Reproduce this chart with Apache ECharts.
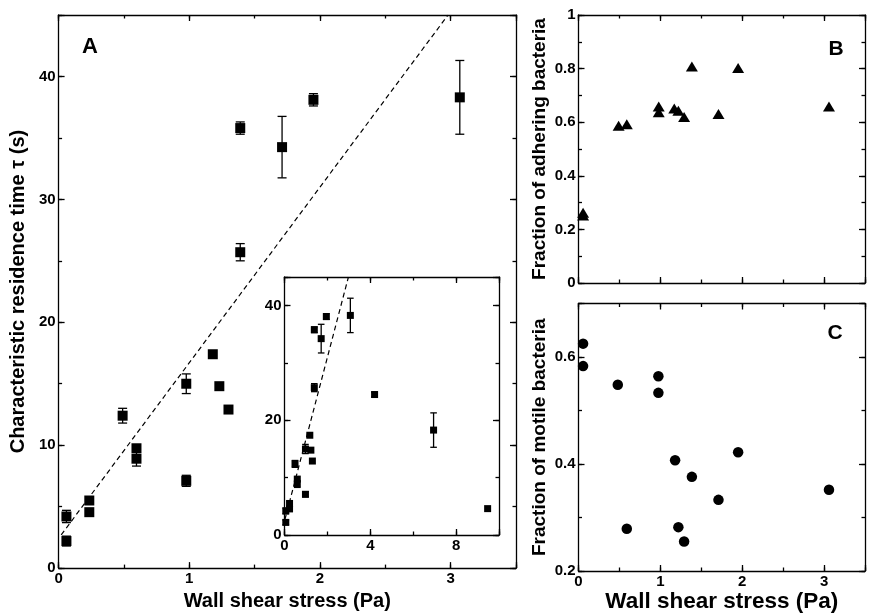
<!DOCTYPE html>
<html>
<head>
<meta charset="utf-8">
<script src="https://cdn.jsdelivr.net/npm/echarts@6/dist/echarts.min.js"></script>
<style>
  html, body { margin: 0; padding: 0; background: #fff; }
  #main { width: 869px; height: 616px; }
</style>
</head>
<body>
<div id="main"></div>
<script>
// residence time vs wall shear stress (panel A and inset)
var tauX = [0.06, 0.06, 0.235, 0.235, 0.49, 0.596, 0.596, 0.977, 0.977, 1.18, 1.23, 1.30, 1.39, 1.39, 1.71, 1.95, 3.07]
var tauY = [4.2, 2.2, 5.5, 4.55, 12.4, 9.75, 8.9, 15.0, 7.1, 17.4, 14.8, 12.9, 35.8, 25.7, 34.25, 38.1, 38.3]
var tauErr = [0.5, 0.4, 0, 0, 0.6, 0, 0.6, 0.8, 0.45, 0, 0, 0, 0.5, 0.7, 2.5, 0.5, 3.0]
// extra high-stress points only shown in the inset
var tauXHigh = [4.2, 6.95, 9.47]
var tauYHigh = [24.5, 18.3, 4.6]
var tauErrHigh = [0.4, 3.0, 0]
// dashed fit line, end points
var fitX = [0.02, 2.98]
var fitY = [2.7, 45.0]

// fraction of adhering bacteria (panel B)
var adhX = [0.056, 0.056, 0.49, 0.59, 0.98, 0.98, 1.17, 1.22, 1.29, 1.385, 1.71, 1.95, 3.06]
var adhY = [0.262, 0.252, 0.587, 0.592, 0.659, 0.637, 0.651, 0.643, 0.619, 0.808, 0.631, 0.802, 0.659]

// fraction of motile bacteria (panel C)
var motX = [0.056, 0.056, 0.48, 0.976, 0.976, 1.18, 1.385, 1.95, 1.71, 3.06, 0.59, 1.22, 1.29]
var motY = [0.625, 0.583, 0.548, 0.564, 0.533, 0.407, 0.376, 0.422, 0.333, 0.352, 0.279, 0.282, 0.255]

// tick labels
var tauXTicks = [0, 1, 2, 3]
var tauYTicks = [0, 10, 20, 30, 40]
var insetXTicks = [0, 4, 8]
var insetYTicks = [0, 20, 40]
var fracXTicks = [0, 1, 2, 3]
var adhYTicks = [0, 0.2, 0.4, 0.6, 0.8, 1]
var motYTicks = [0.2, 0.4, 0.6]

var FONT = '"Liberation Sans", Arial, Helvetica, sans-serif'

var xAxes = []
var yAxes = []

// pushes a major axis (line, long ticks, labels) and a minor axis (short ticks) on one side
function addAxes (list, grid, pos, min, max, major, minor, ticks, name, nameSize, nameGap) {
  var idx = list.length
  var vertical = (pos === 'left' || pos === 'right')
  list.push({
    type: 'value',
    gridIndex: grid,
    position: pos,
    min: min,
    max: max,
    interval: major,
    axisLine: { show: true, onZero: false, lineStyle: { color: '#000', width: 1.3 } },
    axisTick: { show: true, inside: true, length: 6, lineStyle: { color: '#000', width: 1.3 } },
    axisLabel: {
      show: !!ticks,
      margin: 3,
      color: '#000',
      fontSize: 15,
      fontWeight: 'bold',
      fontFamily: FONT,
      formatter: function (v) {
        if (!ticks) return ''
        for (var i = 0; i < ticks.length; i++) {
          if (Math.abs(ticks[i] - v) < 1e-6) return String(ticks[i])
        }
        return ''
      }
    },
    splitLine: { show: false },
    name: name || '',
    nameLocation: 'middle',
    nameGap: nameGap || 0,
    nameRotate: vertical ? 90 : 0,
    nameTextStyle: { color: '#000', fontSize: nameSize || 12, fontWeight: 'bold', fontFamily: FONT }
  })
  list.push({
    type: 'value',
    gridIndex: grid,
    position: pos,
    min: min,
    max: max,
    interval: minor,
    axisLine: { show: false, onZero: false },
    axisTick: { show: true, inside: true, length: 3.5, lineStyle: { color: '#000', width: 1.3 } },
    axisLabel: { show: false },
    splitLine: { show: false }
  })
  return idx
}

// grid 0: A, grid 1: inset, grid 2: B, grid 3: C
var axA = addAxes(xAxes, 0, 'bottom', 0, 3.5, 1, 0.5, tauXTicks, 'Wall shear stress (Pa)', 20, 21)
addAxes(xAxes, 0, 'top', 0, 3.5, 1, 0.5, null)
var ayA = addAxes(yAxes, 0, 'left', 0, 45, 10, 5, tauYTicks, 'Characteristic residence time τ (s)', 20, 23)
addAxes(yAxes, 0, 'right', 0, 45, 10, 5, null)

var axI = addAxes(xAxes, 1, 'bottom', 0, 10, 4, 2, insetXTicks)
addAxes(xAxes, 1, 'top', 0, 10, 4, 2, null)
var ayI = addAxes(yAxes, 1, 'left', 0, 45, 20, 10, insetYTicks)
addAxes(yAxes, 1, 'right', 0, 45, 20, 10, null)

var axB = addAxes(xAxes, 2, 'bottom', 0, 3.5, 1, 0.5, null)
addAxes(xAxes, 2, 'top', 0, 3.5, 1, 0.5, null)
var ayB = addAxes(yAxes, 2, 'left', 0, 1, 0.2, 0.1, adhYTicks, 'Fraction of adhering bacteria', 19, 29)
addAxes(yAxes, 2, 'right', 0, 1, 0.2, 0.1, null)

var axC = addAxes(xAxes, 3, 'bottom', 0, 3.5, 1, 0.5, fracXTicks, 'Wall shear stress (Pa)', 22.5, 19)
addAxes(xAxes, 3, 'top', 0, 3.5, 1, 0.5, null)
var ayC = addAxes(yAxes, 3, 'left', 0.2, 0.7, 0.2, 0.1, motYTicks, 'Fraction of motile bacteria', 19, 29)
addAxes(yAxes, 3, 'right', 0.2, 0.7, 0.2, 0.1, null)

function pairs (xs, ys) {
  var out = []
  for (var i = 0; i < xs.length; i++) out.push([xs[i], ys[i]])
  return out
}

function triples (xs, ys, es) {
  var out = []
  for (var i = 0; i < xs.length; i++) out.push([xs[i], ys[i], es[i]])
  return out
}

// vertical error bars with caps
function errorBars (capHalf) {
  return function (params, api) {
    var x = api.value(0)
    var y = api.value(1)
    var e = api.value(2)
    if (!e) return
    var hi = api.coord([x, y + e])
    var lo = api.coord([x, y - e])
    var st = { stroke: '#000', lineWidth: 1.3 }
    return {
      type: 'group',
      children: [
        { type: 'line', shape: { x1: hi[0], y1: hi[1], x2: lo[0], y2: lo[1] }, style: st },
        { type: 'line', shape: { x1: hi[0] - capHalf, y1: hi[1], x2: hi[0] + capHalf, y2: hi[1] }, style: st },
        { type: 'line', shape: { x1: lo[0] - capHalf, y1: lo[1], x2: lo[0] + capHalf, y2: lo[1] }, style: st }
      ]
    }
  }
}

var insetX = tauX.concat(tauXHigh)
var insetY = tauY.concat(tauYHigh)
var insetErr = tauErr.concat(tauErrHigh)

var myChart = echarts.init(document.getElementById('main'), null, { renderer: 'canvas' })

var dot = { color: '#000', opacity: 1 }

var option = {
  animation: false,
  backgroundColor: '#fff',
  grid: [
    { left: 50, top: 15, width: 466, height: 556 },
    { left: 284.5, top: 277, width: 214.5, height: 258 },
    { left: 578.5, top: 15, width: 286.5, height: 268 },
    { left: 578.5, top: 303.5, width: 286.5, height: 267.5 }
  ],
  xAxis: xAxes,
  yAxis: yAxes,
  graphic: [
    { type: 'text', x: 90, y: 47, style: { text: 'A', fill: '#000', font: 'bold 22px ' + FONT, align: 'center', verticalAlign: 'middle', textAlign: 'center', textVerticalAlign: 'middle' } },
    { type: 'text', x: 836, y: 49, style: { text: 'B', fill: '#000', font: 'bold 21px ' + FONT, align: 'center', verticalAlign: 'middle', textAlign: 'center', textVerticalAlign: 'middle' } },
    { type: 'text', x: 835, y: 333, style: { text: 'C', fill: '#000', font: 'bold 21px ' + FONT, align: 'center', verticalAlign: 'middle', textAlign: 'center', textVerticalAlign: 'middle' } }
  ],
  series: [
    {
      type: 'line',
      xAxisIndex: axA,
      yAxisIndex: ayA,
      data: pairs(fitX, fitY),
      symbol: 'none',
      clip: true,
      lineStyle: { color: '#000', width: 1.2, type: [5, 3.5] }
    },
    {
      type: 'custom',
      xAxisIndex: axA,
      yAxisIndex: ayA,
      data: triples(tauX, tauY, tauErr),
      renderItem: errorBars(4.5),
      encode: { x: 0, y: 1 }
    },
    {
      type: 'scatter',
      xAxisIndex: axA,
      yAxisIndex: ayA,
      data: pairs(tauX, tauY),
      symbol: 'rect',
      symbolSize: 10,
      itemStyle: dot
    },
    {
      type: 'line',
      xAxisIndex: axI,
      yAxisIndex: ayI,
      data: pairs(fitX, fitY),
      symbol: 'none',
      clip: true,
      lineStyle: { color: '#000', width: 1.2, type: [5, 3.5] }
    },
    {
      type: 'custom',
      xAxisIndex: axI,
      yAxisIndex: ayI,
      data: triples(insetX, insetY, insetErr),
      renderItem: errorBars(3.3),
      encode: { x: 0, y: 1 }
    },
    {
      type: 'scatter',
      xAxisIndex: axI,
      yAxisIndex: ayI,
      data: pairs(insetX, insetY),
      symbol: 'rect',
      symbolSize: 7,
      itemStyle: dot
    },
    {
      type: 'scatter',
      xAxisIndex: axB,
      yAxisIndex: ayB,
      data: pairs(adhX, adhY),
      symbol: 'triangle',
      symbolSize: [12, 10],
      itemStyle: dot
    },
    {
      type: 'scatter',
      xAxisIndex: axC,
      yAxisIndex: ayC,
      data: pairs(motX, motY),
      symbol: 'circle',
      symbolSize: 10.5,
      itemStyle: dot
    }
  ]
}

myChart.setOption(option)
</script>
</body>
</html>
